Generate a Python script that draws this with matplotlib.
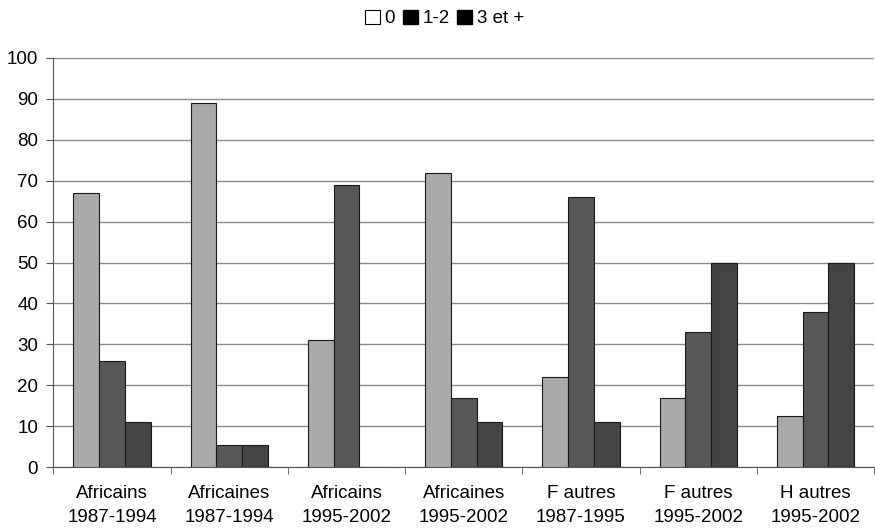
import numpy as np
import matplotlib.pyplot as plt
from matplotlib.patches import Patch

plt.rcParams['font.family'] = ['Liberation Sans', 'DejaVu Sans']

# Groups and shares (%) by number of children
groups = ["Africains\n1987-1994", "Africaines\n1987-1994", "Africains\n1995-2002",
          "Africaines\n1995-2002", "F autres\n1987-1995", "F autres\n1995-2002",
          "H autres\n1995-2002"]
s0 = [67, 89, 31, 72, 22, 17, 12.5]
s12 = [26, 5.5, 69, 17, 66, 33, 38]
s3 = [11, 5.5, 0, 11, 11, 50, 50]
series_names = ["0", "1-2", "3 et +"]

colors = ["#a9a9a9", "#575757", "#444444"]

fig = plt.figure(figsize=(8.75, 5.32), dpi=100)
ax = fig.add_axes([0.061, 0.122, 0.938, 0.769])

x = np.arange(len(groups))
w = 0.22
for i, (vals, c) in enumerate(zip([s0, s12, s3], colors)):
    ax.bar(x + (i - 1) * w, vals, width=w, color=c, edgecolor="#1a1a1a",
           linewidth=0.8, zorder=3)

ax.set_xlim(-0.5, len(groups) - 0.5)
ax.set_ylim(0, 100)
ax.set_yticks(range(0, 101, 10))
ax.yaxis.grid(True, color="#8a8a8a", linewidth=1.0, zorder=0)
ax.set_xticks(x)
ax.set_xticklabels(groups, fontsize=13.5, linespacing=1.5)
ax.set_xticks(np.arange(-0.5, len(groups), 1), minor=True)
ax.tick_params(axis="x", which="major", length=0, pad=13)
ax.tick_params(axis="x", which="minor", length=5, color="#555555")
ax.tick_params(axis="y", labelsize=13.5, length=5, color="#555555", pad=6)
for side in ["top", "right"]:
    ax.spines[side].set_visible(False)
for side in ["left", "bottom"]:
    ax.spines[side].set_color("#555555")

handles = [Patch(facecolor="white", edgecolor="black", linewidth=0.8),
           Patch(facecolor="black", edgecolor="black"),
           Patch(facecolor="black", edgecolor="black")]
fig.legend(handles, series_names, loc="center", bbox_to_anchor=(0.508, 0.965),
           ncol=3, frameon=False, fontsize=13.5, handlelength=0.8, handleheight=0.8,
           handletextpad=0.25, columnspacing=0.4)

fig.savefig("out.png", dpi=100)
